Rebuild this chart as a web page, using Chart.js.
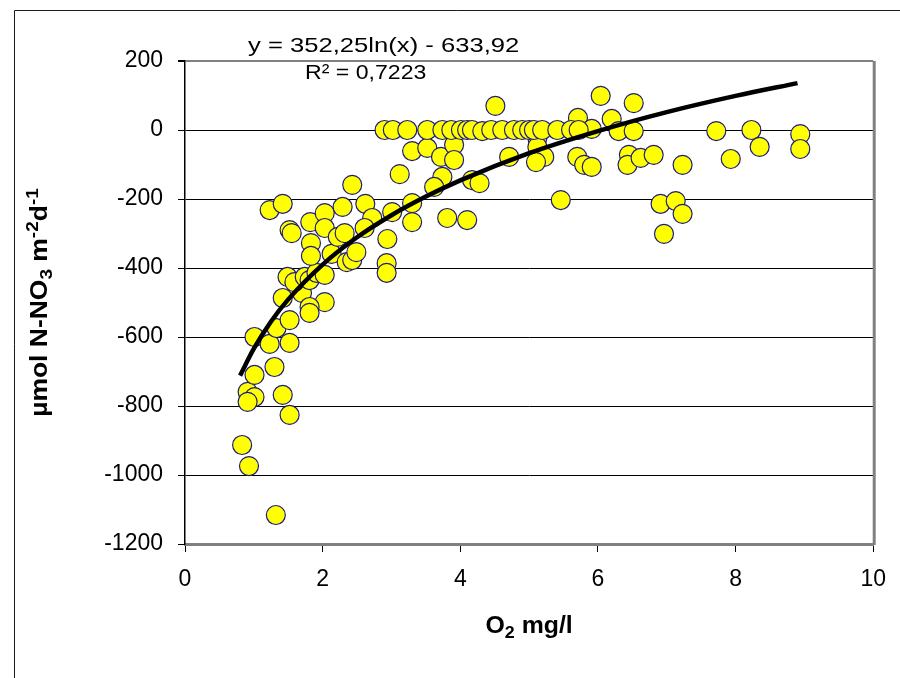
<!DOCTYPE html>
<html>
<head>
<meta charset="utf-8">
<script src="https://cdn.jsdelivr.net/npm/chart.js@4.4.1/dist/chart.umd.min.js"></script>
<style>
  html, body { margin: 0; padding: 0; background: #fff; }
  canvas { display: block; }
</style>
</head>
<body>
<canvas id="chart" width="900" height="678"></canvas>
<script>
// O2 (mg/l) and N-NO3 flux (umol m-2 d-1)
const o2Values = [
  0.83, 0.93, 1.32, 0.91, 1.01, 0.91, 1.01, 1.01, 1.23, 1.52,
  1.30, 1.42, 1.52, 1.33, 1.52, 1.42, 1.70, 2.03, 1.81, 1.81,
  1.49, 1.59, 1.74, 1.81, 1.91, 2.03, 1.23, 1.42, 1.52, 1.55,
  1.82, 2.03, 2.03, 1.83, 1.83, 2.13, 2.22, 2.32, 2.35, 2.43,
  2.49, 2.29, 2.43, 2.62, 2.72, 2.61, 2.94, 2.93, 2.93, 3.01,
  3.30, 3.30, 3.12, 3.30, 3.52, 3.72, 3.91, 3.91, 3.74, 3.62,
  3.81, 4.10, 4.17, 4.28, 4.51, 4.71, 5.12, 5.12, 5.22, 5.10,
  5.46, 5.71, 5.91, 5.70, 5.80, 5.91, 6.04, 6.20, 6.52, 6.30,
  6.52, 6.45, 6.43, 6.62, 6.81, 7.23, 6.91, 7.13, 7.23, 6.96,
  7.72, 7.93, 8.23, 8.35, 8.94, 8.94,
  2.90, 3.02, 3.23, 3.52, 3.74, 3.87, 4.01, 4.10, 4.17, 4.32,
  4.45, 4.61, 4.78, 4.90, 5.00, 5.07, 5.19, 5.41, 5.61, 5.72
];
const nitrateFlux = [
  -913, -974, -1116, -759, -774, -788, -710, -600, -620, -617,
  -687, -768, -826, -574, -551, -487, -472, -499, -513, -530,
  -426, -441, -426, -435, -414, -420, -232, -214, -290, -299,
  -267, -241, -284, -328, -365, -359, -310, -299, -383, -377,
  -354, -223, -159, -214, -255, -284, -316, -386, -414, -238,
  -212, -267, -128, -61, -52, -78, -43, -87, -136, -165,
  -255, -261, -145, -154, 70, -78, -23, -49, -78, -93,
  -203, 35, 3, -78, -101, -107, 99, 32, 78, -3,
  -3, -72, -101, -81, -72, -101, -214, -206, -243, -301,
  -3, -84, 0, -49, -12, -55,
  0, 0, 0, 0, 0, 0, 0, 0, 0, -3,
  0, 0, 0, 0, 0, 0, 0, 0, 0, 0
];

// logarithmic trend line as drawn on the chart
const trendX = [0.8, 1, 1.25, 1.5, 2, 2.5, 3, 3.5, 4, 5, 6, 7, 8, 8.9];
const trendY = [-712, -634, -555, -491, -390, -311, -247, -193, -146, -67, -3, 52, 99, 136];

const yTicks = [200, 0, -200, -400, -600, -800, -1000, -1200];
const xTicks = [0, 2, 4, 6, 8, 10];

const equationText = "y = 352,25ln(x) - 633,92";
const rSquaredText = "R\u00b2 = 0,7223";

const FONT = "'Liberation Sans', Arial, sans-serif";

// draw text made of parts, some lowered (sub) or raised (sup), stretched along the line
function drawRich(ctx, parts, x, y, size, bold, stretch) {
  const small = size * 0.72;
  let total = 0;
  parts.forEach(p => {
    ctx.font = (bold ? "bold " : "") + (p.pos ? small : size) + "px " + FONT;
    total += ctx.measureText(p.t).width;
  });
  ctx.save();
  ctx.translate(x, y);
  ctx.scale(stretch, 1);
  let cx = -total / 2;
  parts.forEach(p => {
    ctx.font = (bold ? "bold " : "") + (p.pos ? small : size) + "px " + FONT;
    let dy = 0;
    if (p.pos === "sub") dy = size * 0.3;
    if (p.pos === "sup") dy = -size * 0.35;
    ctx.fillText(p.t, cx, dy);
    cx += ctx.measureText(p.t).width;
  });
  ctx.restore();
}

function drawStretched(ctx, text, x, y, size, stretch) {
  ctx.save();
  ctx.translate(x, y);
  ctx.scale(stretch, 1);
  ctx.font = size + "px " + FONT;
  ctx.textAlign = "left";
  ctx.fillText(text, 0, 0);
  ctx.restore();
}

const decorations = {
  id: "decorations",
  afterDraw(chart) {
    const ctx = chart.ctx;
    const a = chart.chartArea;
    ctx.save();
    // outer frame
    ctx.strokeStyle = "#1a1a1a";
    ctx.lineWidth = 1;
    ctx.beginPath();
    ctx.moveTo(14.5, 690);
    ctx.lineTo(14.5, 10.5);
    ctx.lineTo(910, 10.5);
    ctx.stroke();
    // right border of plot area
    ctx.strokeStyle = "#808080";
    ctx.lineWidth = 3;
    ctx.beginPath();
    ctx.moveTo(a.right + 1, a.top);
    ctx.lineTo(a.right + 1, a.bottom + 1);
    ctx.stroke();

    ctx.fillStyle = "#000";
    ctx.textBaseline = "middle";
    // trend equation
    drawStretched(ctx, equationText, 248, 46, 21, 1.22);
    drawStretched(ctx, rSquaredText, 305, 73, 21, 1.1);

    // axis titles
    drawRich(ctx, [{t: "O"}, {t: "2", pos: "sub"}, {t: " mg/l"}],
      (a.left + a.right) / 2, 627, 23, true, 1.08);
    ctx.translate(41, (a.top + a.bottom) / 2);
    ctx.rotate(-Math.PI / 2);
    drawRich(ctx, [{t: "\u00b5mol N-NO"}, {t: "3", pos: "sub"}, {t: " m"},
      {t: "-2", pos: "sup"}, {t: "d"}, {t: "-1", pos: "sup"}], 0, 0, 23, true, 1.15);
    ctx.restore();
  }
};

const points = o2Values.map((x, i) => ({x: x, y: nitrateFlux[i]}));
const trend = trendX.map((x, i) => ({x: x, y: trendY[i]}));

new Chart(document.getElementById("chart"), {
  type: "scatter",
  data: {
    datasets: [{
      label: "trend",
      type: "line",
      data: trend,
      borderColor: "#000",
      borderWidth: 4.5,
      pointRadius: 0,
      cubicInterpolationMode: "monotone",
      fill: false,
      order: 0
    }, {
      label: "N-NO3",
      data: points,
      backgroundColor: "#ffff00",
      borderColor: "#1c1c7a",
      borderWidth: 1.2,
      pointRadius: 9.5,
      order: 1
    }]
  },
  options: {
    responsive: false,
    animation: false,
    layout: { padding: { left: 0, right: 25, top: 61, bottom: 0 } },
    plugins: { legend: { display: false }, tooltip: { enabled: false } },
    scales: {
      x: {
        type: "linear",
        min: 0,
        max: 10,
        afterBuildTicks: s => { s.ticks = xTicks.map(v => ({value: v})); },
        afterFit: s => { s.height = 134; },
        border: { display: true, color: "#808080", width: 3 },
        grid: { drawOnChartArea: false, drawTicks: true, tickLength: 8, tickColor: "#000", tickWidth: 1 },
        ticks: { color: "#000", padding: 14, font: { family: FONT, size: 23 }, callback: v => String(v) }
      },
      y: {
        type: "linear",
        min: -1200,
        max: 200,
        afterBuildTicks: s => { s.ticks = yTicks.map(v => ({value: v})); },
        afterFit: s => { s.width = 185; },
        border: { display: true, color: "#000", width: 1.5 },
        grid: {
          drawTicks: true,
          tickLength: 7,
          tickColor: "#000",
          color: c => (c.tick && (c.tick.value === 200 || c.tick.value === -1200)) ? "#808080" : "#000",
          lineWidth: c => (c.tick && c.tick.value === 200) ? 2 : 1
        },
        ticks: { color: "#000", padding: 15, font: { family: FONT, size: 23 }, callback: v => String(v) }
      }
    }
  },
  plugins: [decorations]
});
</script>
</body>
</html>
